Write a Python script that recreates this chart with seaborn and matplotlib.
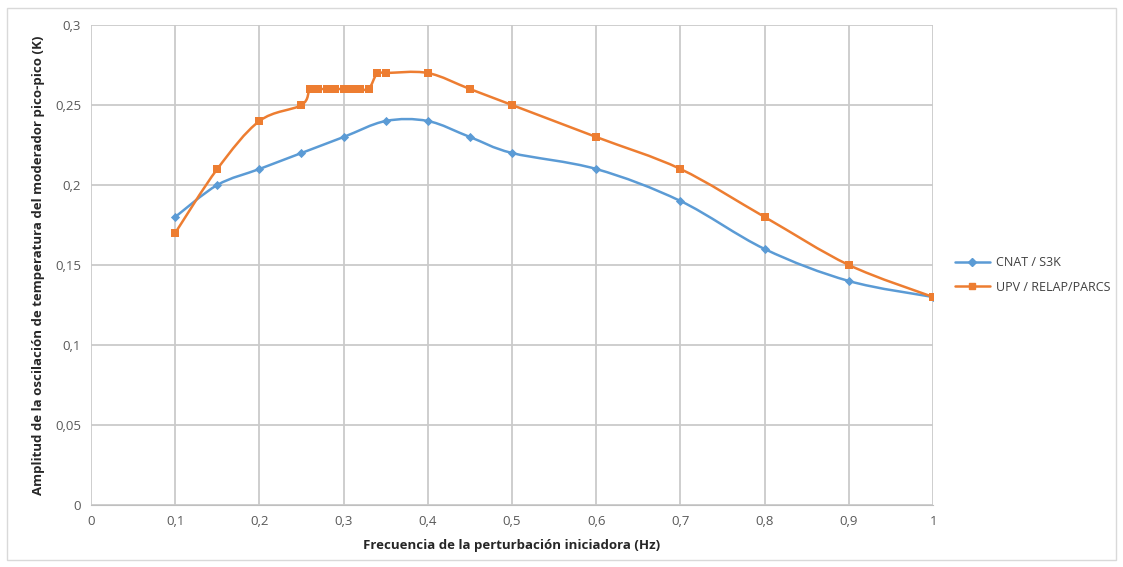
import numpy as np
import pandas as pd
import seaborn as sns
from matplotlib import pyplot as plt
from matplotlib.path import Path
from matplotlib.patches import PathPatch, Rectangle
from matplotlib.lines import Line2D
from matplotlib.ticker import FuncFormatter, MultipleLocator

# datos
frec_cnat = [0.1, 0.15, 0.2, 0.25, 0.3, 0.35, 0.4, 0.45, 0.5, 0.6, 0.7, 0.8, 0.9, 1.0]
amp_cnat = [0.18, 0.20, 0.21, 0.22, 0.23, 0.24, 0.24, 0.23, 0.22, 0.21, 0.19, 0.16, 0.14, 0.13]

frec_upv = [0.1, 0.15, 0.2, 0.25, 0.26, 0.27, 0.28, 0.29, 0.3, 0.31, 0.32, 0.33,
            0.34, 0.35, 0.4, 0.45, 0.5, 0.6, 0.7, 0.8, 0.9, 1.0]
amp_upv = [0.17, 0.21, 0.24, 0.25, 0.26, 0.26, 0.26, 0.26, 0.26, 0.26, 0.26, 0.26,
           0.27, 0.27, 0.27, 0.26, 0.25, 0.23, 0.21, 0.18, 0.15, 0.13]

etiqueta_cnat = 'CNAT / S3K'
etiqueta_upv = 'UPV / RELAP/PARCS'
azul = '#5B9BD5'
naranja = '#ED7D31'


def curva_suave(x, y):
    # curva tipo Excel (Bezier cubica con puntos de control Catmull-Rom)
    p = np.column_stack([x, y])
    verts = [p[0]]
    codes = [Path.MOVETO]
    n = len(p)
    for i in range(n - 1):
        p0 = p[max(i - 1, 0)]
        p1 = p[i]
        p2 = p[i + 1]
        p3 = p[min(i + 2, n - 1)]
        c1 = p1 + (p2 - p0) / 6.0
        c2 = p2 - (p3 - p1) / 6.0
        verts += [c1, c2, p2]
        codes += [Path.CURVE4] * 3
    return Path(verts, codes)


sns.set_style('white')
plt.rcParams['font.family'] = ['Open Sans', 'DejaVu Sans']

fig = plt.figure(figsize=(11.23, 5.67), dpi=100)
ax = fig.add_axes([0.081, 0.1093, 0.7499, 0.8466])

df_cnat = pd.DataFrame({'x': frec_cnat, 'y': amp_cnat})
df_upv = pd.DataFrame({'x': frec_upv, 'y': amp_upv})

ax.add_patch(PathPatch(curva_suave(frec_cnat, amp_cnat), facecolor='none',
                       edgecolor=azul, lw=1.8, zorder=3))
ax.add_patch(PathPatch(curva_suave(frec_upv, amp_upv), facecolor='none',
                       edgecolor=naranja, lw=1.8, zorder=3))

sns.scatterplot(data=df_cnat, x='x', y='y', ax=ax, marker='D', s=22,
                color=azul, edgecolor=azul, linewidth=0, zorder=4)
sns.scatterplot(data=df_upv, x='x', y='y', ax=ax, marker='s', s=34,
                color=naranja, edgecolor=naranja, linewidth=0, zorder=4)

ax.set_xlim(0, 1)
ax.set_ylim(0, 0.3)
ax.xaxis.set_major_locator(MultipleLocator(0.1))
ax.yaxis.set_major_locator(MultipleLocator(0.05))


def coma(v, pos):
    s = f'{v:.2f}'.rstrip('0').rstrip('.')
    return s.replace('.', ',')


ax.xaxis.set_major_formatter(FuncFormatter(coma))
ax.yaxis.set_major_formatter(FuncFormatter(coma))
ax.grid(True, color='#CACACA', lw=1.3)
ax.set_axisbelow(True)
for lado in ['top', 'right', 'left']:
    ax.spines[lado].set_visible(False)
ax.spines['bottom'].set_color('#BFBFBF')
ax.tick_params(axis='both', length=0, labelsize=9.5, colors='#595959', pad=7)

ax.set_xlabel('Frecuencia de la perturbación iniciadora (Hz)', fontsize=9.5,
              fontweight='bold', color='#262626', labelpad=8)
ax.set_ylabel('Amplitud de la oscilación de temperatura del moderador pico-pico (K)',
              fontsize=9.5, fontweight='bold', color='#262626', labelpad=7)

manejadores = [
    Line2D([], [], color=azul, lw=1.8, marker='D', markersize=4),
    Line2D([], [], color=naranja, lw=1.8, marker='s', markersize=5),
]
fig.legend(manejadores, [etiqueta_cnat, etiqueta_upv], loc='center left',
           bbox_to_anchor=(0.84, 0.515), frameon=False, fontsize=9,
           handlelength=2.8, handletextpad=0.5, labelspacing=0.9,
           labelcolor='#404040')

fig.add_artist(Rectangle((0.006, 0.012), 0.988, 0.974, transform=fig.transFigure,
                         fill=False, edgecolor='#D9D9D9', lw=1.0))

plt.savefig('out.png', dpi=100)
